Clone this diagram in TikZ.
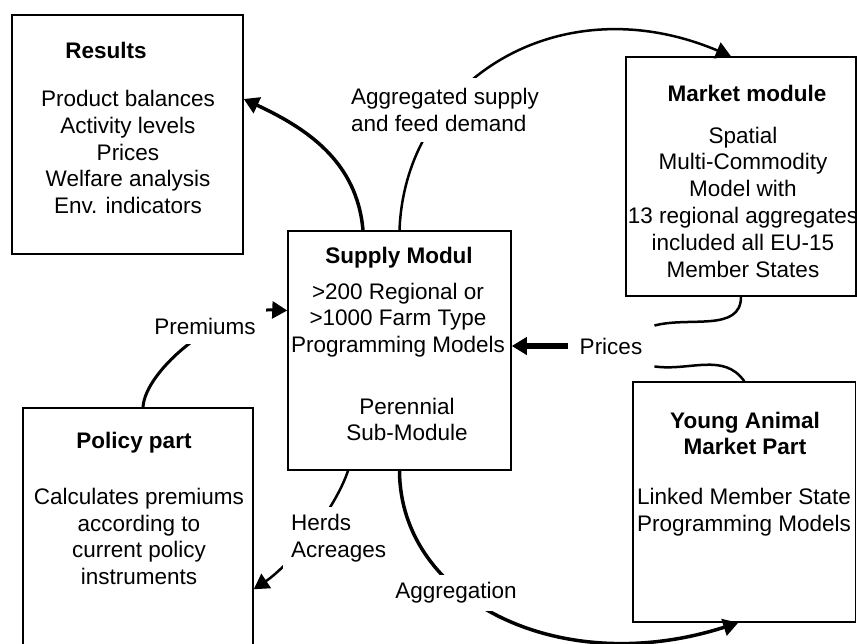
\documentclass[tikz,border=0pt]{standalone}
\usepackage{fontspec}
\setmainfont{Liberation Sans}
\usetikzlibrary{arrows.meta}

\begin{document}
\begin{tikzpicture}[x=1pt,y=1pt,
  modbox/.style={draw,line width=1.5pt,inner sep=0pt},
  txt/.style={font=\fontsize{22.5}{26.8}\selectfont,align=center,inner sep=0pt},
  ttl/.style={txt,font=\fontsize{22.5}{26.8}\selectfont\bfseries},
  lbl/.style={txt,fill=white,inner sep=10pt},
  flow/.style={line width=#1,-{Triangle[length=15pt,width=17pt]}},
  joint/.style={line width=#1}]
\clip (0,0) rectangle (857,644);
% module boxes
\node[modbox,minimum width=231pt,minimum height=239pt] (results) at (127.5,509.5) {};
\node[modbox,minimum width=223pt,minimum height=239pt] (supply) at (399.5,293.5) {};
\node[modbox,minimum width=230pt,minimum height=239pt] (market) at (741,467.5) {};
\node[modbox,minimum width=222.5pt,minimum height=240pt] (young) at (744.25,142) {};
\node[modbox,minimum width=230pt,minimum height=246pt] (policy) at (138,113) {};
% box texts
\node[ttl] (resultsTtl) at (106,594) {Results};
\node[txt] (resultsTxt) at (128,492) {Product balances\\Activity levels\\Prices\\Welfare analysis\\Env. indicators};
\node[ttl] (supplyTtl) at (399,386) {Supply Modul};
\node[txt] (supplyTxt) at (398,324) {>200 Regional or\\>1000 Farm Type\\Programming Models};
\node[txt] (perenTxt) at (407,224.5) {Perennial\\Sub-Module};
\node[ttl] (marketTtl) at (747,551) {Market module};
\node[txt] (marketTxt) at (743,442) {Spatial\\Multi-Commodity\\Model with\\13 regional aggregates\\included all EU-15\\Member States};
\node[ttl] (youngTtl) at (745,210.5) {Young Animal\\Market Part};
\node[txt] (youngTxt) at (744,131.5) {Linked Member State\\Programming Models};
\node[ttl] (policyTtl) at (134,201) {Policy part};
\node[txt] (policyTxt) at (139,107.5) {Calculates premiums\\according to\\current policy\\instruments};
% prices link
\node[lbl,inner sep=12pt] (pricesLbl) at (611,298) {Prices};
\draw[joint=2.5pt] (market.south) to[out=-90,in=15] (pricesLbl.north east);
\draw[joint=2.5pt] (young.north) to[out=125,in=-8] (pricesLbl.south east);
\draw[flow=6pt] (pricesLbl.west) -- (pricesLbl.west -| supply.east);
% flows between modules
\draw[flow=3.5pt] ([xshift=-36.5pt]supply.north) to[out=95,in=-25] ([yshift=35.5pt]results.east);
\draw[flow=2.5pt] (supply.north) .. controls (405,564) and (560,660) .. ([xshift=-10pt]market.north);
\draw[flow=3pt] ([xshift=5pt]policy.north) .. controls (145,274) and (220,336) .. ([yshift=40pt]supply.west);
\draw[flow=2.5pt] ([xshift=-51.5pt]supply.south) .. controls (335,134) and (290,79) .. ([yshift=-182pt]policy.north east);
\draw[flow=3.5pt] (supply.south) .. controls (400,44) and (560,-36) .. ([xshift=-6pt]young.south);
% flow labels
\node[lbl,anchor=west,align=left] (aggLbl) at (341,534) {Aggregated supply\\and feed demand};
\node[lbl] (premLbl) at (205,318) {Premiums};
\node[lbl,anchor=west,align=left,inner sep=8pt] (herdsLbl) at (283,105.5) {Herds\\Acreages};
\node[lbl,inner sep=8pt] (aggrLbl) at (456,51) {Aggregation};
\end{tikzpicture}
\end{document}
